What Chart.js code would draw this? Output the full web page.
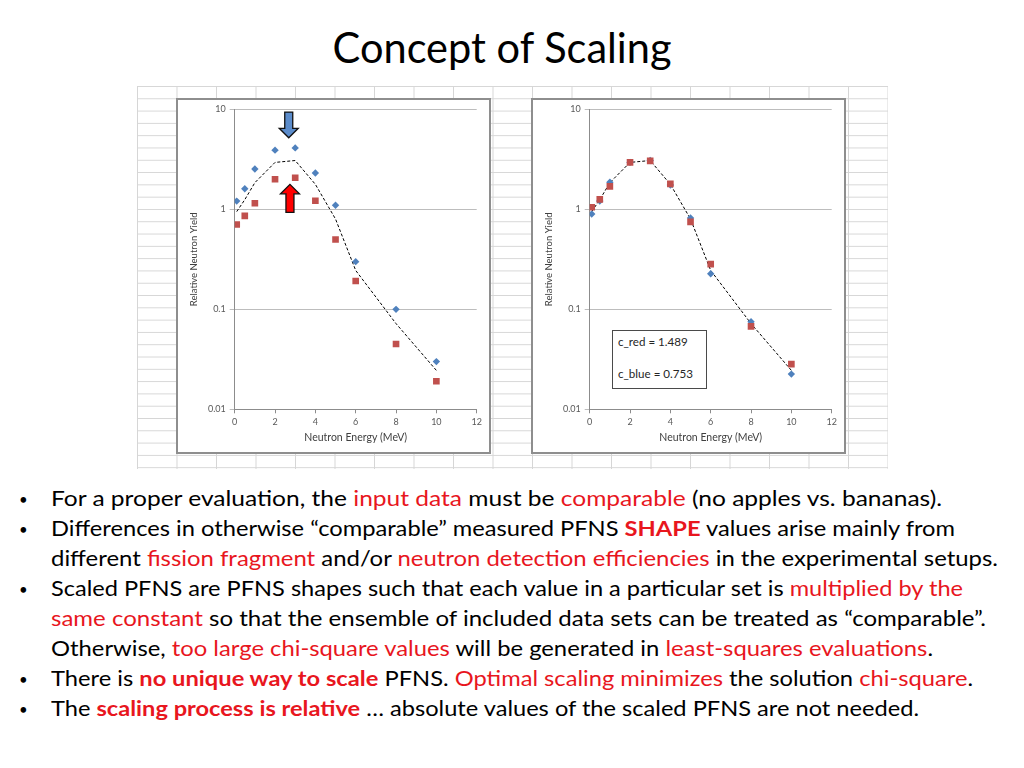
<!DOCTYPE html>
<html><head><meta charset="utf-8">
<script src="https://cdn.jsdelivr.net/npm/chart.js@4"></script>
<style>
html,body{margin:0;padding:0;}
body{width:1024px;height:768px;background:#fff;position:relative;overflow:hidden;font-family:Lato,"Open Sans",sans-serif;color:#000;}
#title{position:absolute;left:0;top:21.8px;width:1005px;text-align:center;font-size:41.7px;line-height:50px;white-space:nowrap;}
#title span{display:inline-block;transform-origin:50% 50%;}
#sheet{position:absolute;left:137px;top:86px;width:751px;height:383px;
 background-image:linear-gradient(to right,#d6d6d6 1px,transparent 1px),linear-gradient(to bottom,#d6d6d6 1px,transparent 1px);
 background-size:39.5px 12.3px;}
.box{position:absolute;background:#fff;border:2px solid #8e8e8e;box-sizing:border-box;}
.box canvas{position:absolute;left:0;top:0;}
#note{position:absolute;left:612px;top:330px;width:95px;height:59px;border:1px solid #4a4a4a;background:#fff;box-sizing:border-box;font-size:11.6px;line-height:14px;color:#262626;}
#note div{position:absolute;left:5px;white-space:nowrap;}
#bullets{position:absolute;left:0;top:483.4px;width:1024px;font-size:21.5px;line-height:30px;}
.ln{position:relative;height:30px;white-space:nowrap;}
.ln .b{position:absolute;left:19px;top:1px;font-size:15px;}
.ln .t{position:absolute;left:51px;top:0;display:inline-block;transform-origin:0 50%;}
.r{color:#e8161e;}
.rb{color:#e8161e;font-weight:bold;}
</style>
</head>
<body>
<div id="title"><span>Concept of Scaling</span></div>
<div id="sheet"></div>
<div class="box" style="left:176px;top:98px;width:315px;height:356px;"><canvas id="c1" width="311" height="352" style="width:311px;height:352px"></canvas></div>
<div class="box" style="left:531px;top:98px;width:315px;height:356px;"><canvas id="c2" width="311" height="352" style="width:311px;height:352px"></canvas></div>
<div id="note"></div>
<div id="bullets">
 <div class="ln"><span class="b">•</span><span class="t">For a proper evaluation, the <span class="r">input data</span> must be <span class="r">comparable</span> (no apples vs. bananas).</span></div>
 <div class="ln"><span class="b">•</span><span class="t">Differences in otherwise “comparable” measured PFNS <span class="rb">SHAPE</span> values arise mainly from</span></div>
 <div class="ln"><span class="t">different <span class="r">fission fragment</span> and/or <span class="r">neutron detection efficiencies</span> in the experimental setups.</span></div>
 <div class="ln"><span class="b">•</span><span class="t">Scaled PFNS are PFNS shapes such that each value in a particular set is <span class="r">multiplied by the</span></span></div>
 <div class="ln"><span class="t"><span class="r">same constant</span> so that the ensemble of included data sets can be treated as “comparable”.</span></div>
 <div class="ln"><span class="t">Otherwise, <span class="r">too large chi-square values</span> will be generated in <span class="r">least-squares evaluations</span>.</span></div>
 <div class="ln"><span class="b">•</span><span class="t">There is <span class="rb">no unique way to scale</span> PFNS. <span class="r">Optimal scaling minimizes</span> the solution <span class="r">chi-square</span>.</span></div>
 <div class="ln"><span class="b">•</span><span class="t">The <span class="rb">scaling process is relative</span> … absolute values of the scaled PFNS are not needed.</span></div>
</div>
<script>
// ---- data ----
const energies = [0.1, 0.5, 1, 2, 3, 4, 5, 6, 8, 10];
const blueRaw = [1.21, 1.61, 2.53, 3.91, 4.12, 2.31, 1.10, 0.30, 0.100, 0.030];
const redRaw = [0.705, 0.86, 1.15, 2.00, 2.07, 1.22, 0.50, 0.192, 0.045, 0.0191];
const blueScaled = [0.90, 1.21, 1.87, 2.95, 3.08, 1.75, 0.82, 0.227, 0.075, 0.0225];
const redScaled = [1.05, 1.26, 1.70, 2.95, 3.06, 1.80, 0.75, 0.283, 0.0675, 0.0283];
const evalLine = [0.95, 1.25, 1.85, 2.95, 3.08, 1.78, 0.80, 0.245, 0.072, 0.0245];
const xTickValues = [0, 2, 4, 6, 8, 10, 12];
const xTickLabels = ['0', '2', '4', '6', '8', '10', '12'];
const yTickValues = [0.01, 0.1, 1, 10];
const yTickLabels = ['0.01', '0.1', '1', '10'];
const scaleNotes = ['c_red = 1.489', 'c_blue = 0.753'];
// arrows on the left chart: [energy, tip value, tail value]
const arrowBlue = [2.68, 5.2, 9.4];
const arrowRed = [2.74, 1.78, 0.935];

// notes
const note = document.getElementById('note');
scaleNotes.forEach((t, i) => {
  const d = document.createElement('div');
  d.textContent = t;
  d.style.top = (i === 0 ? 4.3 : 36.3) + 'px';
  note.appendChild(d);
});

// text fitting to the original (Calibri) line widths
const lineRightEdges = [942, 955, 998, 963, 986, 933, 973, 919];
function fitText() {
  const tspan = document.querySelector('#title span');
  const kt = 339 / tspan.getBoundingClientRect().width;
  tspan.style.transform = 'scaleX(' + kt + ')';
  const lines = document.querySelectorAll('.ln .t');
  lines.forEach((l, i) => {
    const k = (lineRightEdges[i] - 51) / l.getBoundingClientRect().width;
    l.style.transform = 'scaleX(' + k + ')';
  });
}

Chart.defaults.font.family = 'Lato, "Open Sans", sans-serif';
const pts = arr => energies.map((x, i) => ({x: x, y: arr[i]}));

function arrowPlugin(list) {
  return {
    id: 'arrows',
    afterDatasetsDraw(chart) {
      const ctx = chart.ctx, xs = chart.scales.x, ys = chart.scales.y;
      list.forEach(a => {
        const x = xs.getPixelForValue(a.v[0]);
        const tip = ys.getPixelForValue(a.v[1]);
        const tail = ys.getPixelForValue(a.v[2]);
        const dir = tip > tail ? 1 : -1;
        const hl = 9.5, hw = 9.5, sw = 4;
        const base = tip - dir * hl;
        ctx.save();
        ctx.beginPath();
        ctx.moveTo(x - sw, tail);
        ctx.lineTo(x - sw, base);
        ctx.lineTo(x - hw, base);
        ctx.lineTo(x, tip);
        ctx.lineTo(x + hw, base);
        ctx.lineTo(x + sw, base);
        ctx.lineTo(x + sw, tail);
        ctx.closePath();
        ctx.fillStyle = a.color;
        ctx.fill();
        ctx.lineWidth = 1.3;
        ctx.strokeStyle = '#111';
        ctx.lineJoin = 'miter';
        ctx.stroke();
        ctx.restore();
      });
    }
  };
}

function makeChart(id, blue, red, arrows) {
  return new Chart(document.getElementById(id), {
    type: 'scatter',
    data: {
      datasets: [
        {label: 'red', data: pts(red), pointStyle: 'rect', pointRadius: 4.7, backgroundColor: '#c0504d', borderColor: '#c0504d', borderWidth: 0},
        {label: 'blue', data: pts(blue), pointStyle: 'rectRot', pointRadius: 3.7, backgroundColor: '#4f81bd', borderColor: '#4f81bd', borderWidth: 0},
        {label: 'eval', data: pts(evalLine), showLine: true, borderColor: '#000', borderWidth: 1, borderDash: [3, 2], pointRadius: 0, fill: false, tension: 0}
      ]
    },
    options: {
      responsive: false,
      animation: false,
      events: [],
      layout: {padding: {left: 0, right: 12.3, top: 8, bottom: 0}},
      plugins: {legend: {display: false}, tooltip: {enabled: false}},
      scales: {
        x: {
          type: 'linear', min: 0, max: 12,
          afterBuildTicks: s => { s.ticks = xTickValues.map(v => ({value: v})); },
          afterFit: s => { s.height = 42.7; },
          ticks: {color: '#595959', font: {size: 9}, padding: 3, maxRotation: 0, autoSkip: false, callback: (v, i) => xTickLabels[i]},
          grid: {display: true, drawOnChartArea: false, drawTicks: true, tickLength: 4, color: '#8c8c8c'},
          border: {display: true, color: '#8c8c8c', width: 1},
          title: {display: true, text: 'Neutron Energy (MeV)', color: '#404040', font: {size: 10.5}, padding: {top: 0, bottom: 7.8}}
        },
        y: {
          type: 'logarithmic', min: 0.01, max: 10,
          afterBuildTicks: s => { s.ticks = yTickValues.map(v => ({value: v})); },
          afterFit: s => { s.width = 56.7; },
          ticks: {color: '#595959', font: {size: 9}, padding: 4, autoSkip: false, callback: (v, i) => yTickLabels[i]},
          grid: {color: '#bdbdbd', drawTicks: true, tickLength: 5},
          border: {display: true, color: '#8c8c8c', width: 1},
          title: {display: true, text: 'Relative Neutron Yield', color: '#404040', font: {size: 9.5}, padding: {top: 10.6, bottom: 0}}
        }
      }
    },
    plugins: arrows ? [arrowPlugin(arrows)] : []
  });
}

function init() {
  fitText();
  makeChart('c1', blueRaw, redRaw, [
    {v: arrowBlue, color: '#5b8ccb'},
    {v: arrowRed, color: '#ff0000'}
  ]);
  makeChart('c2', blueScaled, redScaled, null);
}
if (document.fonts && document.fonts.ready) {
  document.fonts.load('21.5px Lato').then(() => document.fonts.ready).then(init, init);
} else { init(); }
</script>
</body></html>
